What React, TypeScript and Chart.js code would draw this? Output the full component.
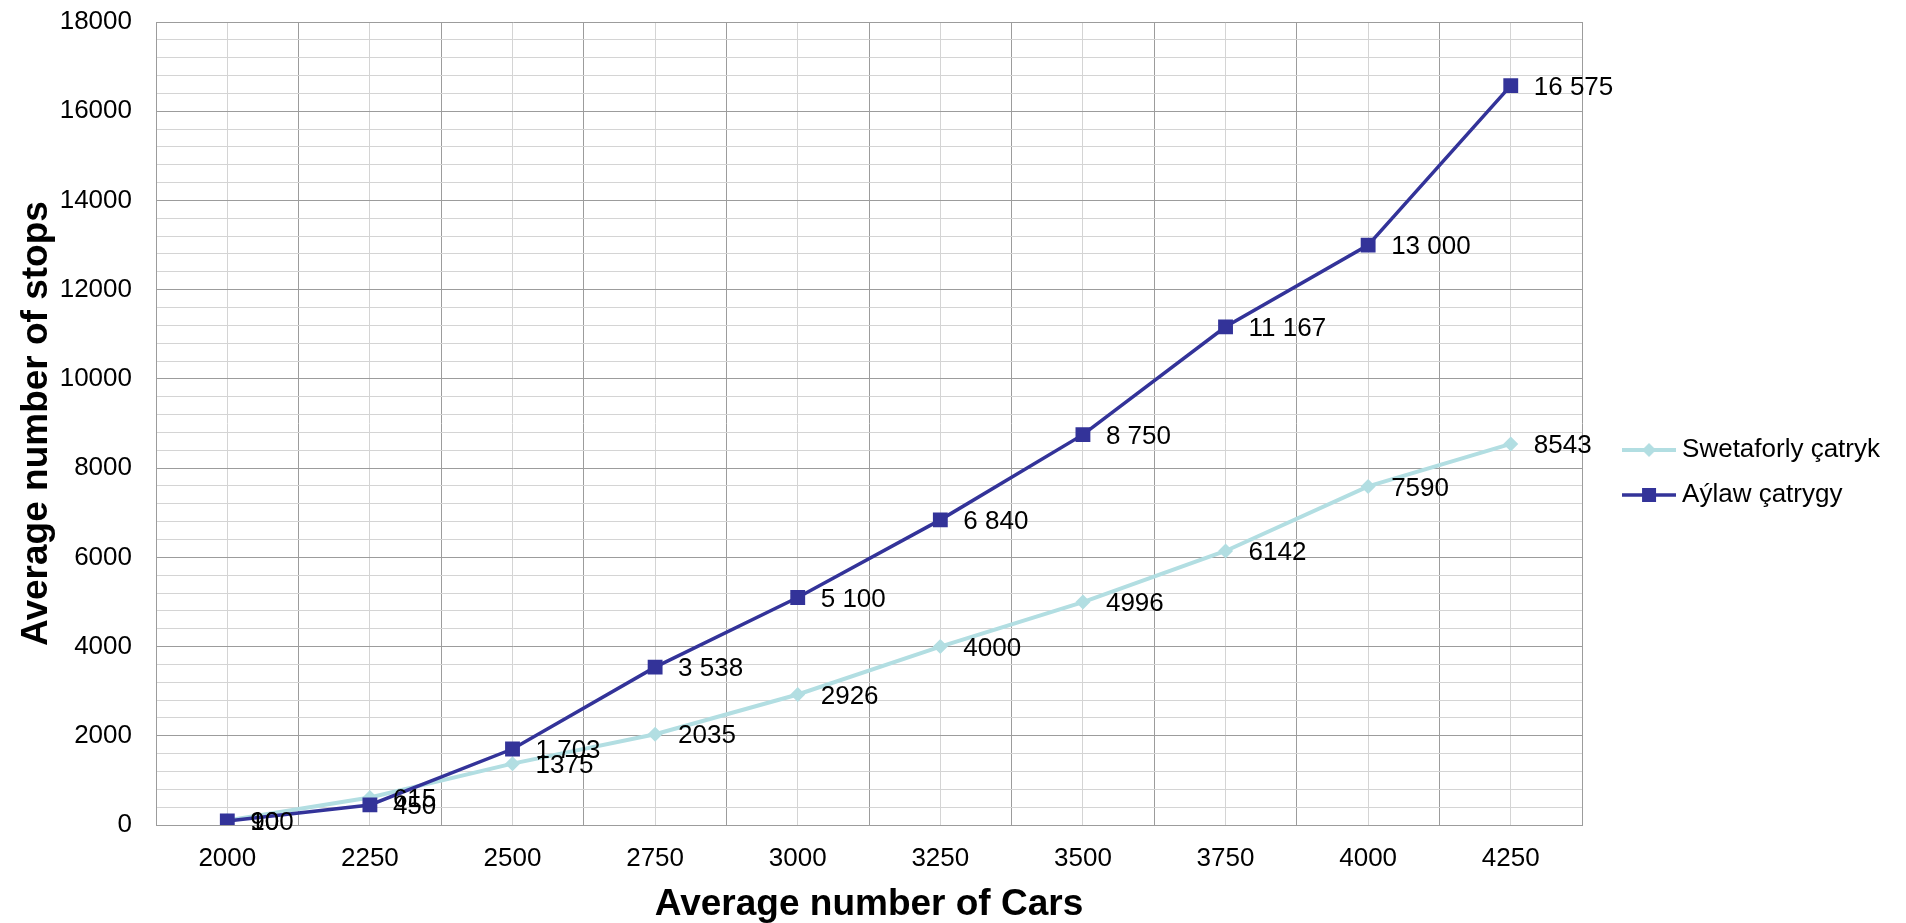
import React, { useEffect, useRef } from "react";
import { Chart, registerables } from "chart.js";

Chart.register(...registerables);

const categories = ["2000", "2250", "2500", "2750", "3000", "3250", "3500", "3750", "4000", "4250"];
const swetaforlyValues = [100, 615, 1375, 2035, 2926, 4000, 4996, 6142, 7590, 8543];
const aylawValues = [90, 450, 1703, 3538, 5100, 6840, 8750, 11167, 13000, 16575];
const seriesNames = ["Swetaforly çatryk", "Aýlaw çatrygy"];
const xTitle = "Average number of Cars";
const yTitle = "Average number of stops";

const LIGHT = "#b2dee2";
const BLUE = "#333399";
const GRID_MAJOR = "#9c9c9c";
const GRID_MINOR = "#d4d4d4";
const FONT = "'Liberation Sans', Arial, sans-serif";

function spaced(v: number) {
  return String(v).replace(/\B(?=(\d{3})+(?!\d))/g, " ");
}

function makeIcon(color: string, marker: "diamond" | "square") {
  const c = document.createElement("canvas");
  c.width = 54;
  c.height = 16;
  const ctx = c.getContext("2d")!;
  ctx.strokeStyle = color;
  ctx.lineWidth = marker === "square" ? 3.5 : 4;
  ctx.beginPath();
  ctx.moveTo(0, 8);
  ctx.lineTo(54, 8);
  ctx.stroke();
  ctx.fillStyle = color;
  if (marker === "square") {
    ctx.fillRect(20, 1, 14, 14);
  } else {
    ctx.beginPath();
    ctx.moveTo(27, 1);
    ctx.lineTo(34, 8);
    ctx.lineTo(27, 15);
    ctx.lineTo(20, 8);
    ctx.closePath();
    ctx.fill();
  }
  return c;
}

const labelPlugin = {
  id: "valueLabels",
  afterDatasetsDraw(chart: any) {
    const ctx = chart.ctx;
    ctx.save();
    ctx.font = `26px ${FONT}`;
    ctx.fillStyle = "#000";
    ctx.textAlign = "left";
    ctx.textBaseline = "middle";
    chart.data.datasets.forEach((ds: any, di: number) => {
      const meta = chart.getDatasetMeta(di);
      meta.data.forEach((pt: any, i: number) => {
        const v = ds.data[i];
        const txt = di === 1 ? spaced(v) : String(v);
        ctx.fillText(txt, pt.x + 23, pt.y + 2);
      });
    });
    ctx.restore();
  },
};

export default function App() {
  const ref = useRef<HTMLCanvasElement>(null);

  useEffect(() => {
    if (!ref.current) return;
    Chart.defaults.font.family = FONT;
    Chart.defaults.color = "#000";
    const icons = [makeIcon(LIGHT, "diamond"), makeIcon(BLUE, "square")];

    const chart = new Chart(ref.current, {
      type: "line",
      data: {
        labels: categories,
        datasets: [
          {
            label: seriesNames[0],
            data: swetaforlyValues,
            borderColor: LIGHT,
            backgroundColor: LIGHT,
            borderWidth: 4,
            pointStyle: "rectRot",
            pointRadius: 7.5,
            pointBorderWidth: 0,
            tension: 0,
            order: 1,
          },
          {
            label: seriesNames[1],
            data: aylawValues,
            borderColor: BLUE,
            backgroundColor: BLUE,
            borderWidth: 3.5,
            pointStyle: "rect",
            pointRadius: 10.5,
            pointBorderWidth: 0,
            tension: 0,
            order: 0,
          },
        ],
      },
      options: {
        animation: false,
        responsive: true,
        maintainAspectRatio: false,
        layout: { padding: { left: 6, top: 22, right: 16, bottom: 0 } },
        plugins: {
          tooltip: { enabled: false },
          legend: {
            position: "right",
            align: "center",
            labels: {
              usePointStyle: true,
              pointStyleWidth: 40,
              padding: 19,
              color: "#000",
              font: { size: 26, family: FONT },
              sort: (a: any, b: any) => a.datasetIndex - b.datasetIndex,
              generateLabels: (chart: any) => {
                const items = Chart.defaults.plugins.legend.labels.generateLabels(chart);
                items.forEach((it: any) => {
                  it.pointStyle = icons[it.datasetIndex];
                });
                return items;
              },
            },
          },
        },
        scales: {
          x: {
            type: "category",
            position: "bottom",
            offset: true,
            grid: { offset: true, color: GRID_MAJOR, drawTicks: false },
            border: { color: GRID_MAJOR },
            ticks: { font: { size: 26 }, padding: 18, color: "#000", maxRotation: 0, autoSkip: false },
            title: {
              display: true,
              text: xTitle,
              color: "#000",
              font: { size: 37, weight: "bold", lineHeight: 1.0 },
              padding: { top: 0, bottom: 0 },
            },
            afterFit: (s: any) => {
              s.height = 98;
              s.paddingLeft = 0;
              s.paddingRight = 0;
            },
          },
          x2: {
            type: "category",
            position: "bottom",
            labels: categories,
            offset: true,
            grid: { offset: false, color: GRID_MINOR, drawTicks: false },
            border: { display: false },
            ticks: { display: false },
            afterFit: (s: any) => {
              s.height = 0;
              s.paddingLeft = 0;
              s.paddingRight = 0;
            },
          },
          y: {
            type: "linear",
            position: "left",
            min: 0,
            max: 18000,
            grid: {
              drawTicks: false,
              color: (c: any) => (c.tick && c.tick.value % 2000 === 0 ? GRID_MAJOR : GRID_MINOR),
            },
            border: { color: GRID_MAJOR },
            ticks: {
              stepSize: 400,
              autoSkip: false,
              padding: 24,
              font: { size: 26 },
              color: "#000",
              callback: (v: any) => (Number(v) % 2000 === 0 ? String(v) : ""),
            },
            title: {
              display: true,
              text: yTitle,
              color: "#000",
              font: { size: 37, weight: "bold", lineHeight: 1.2 },
              padding: { top: 9, bottom: 0 },
            },
            afterFit: (s: any) => {
              s.width = 150;
              s.paddingTop = 0;
              s.paddingBottom = 0;
            },
          },
          yR: {
            type: "linear",
            position: "right",
            display: true,
            grid: { display: false },
            border: { display: false },
            ticks: { display: false },
            afterFit: (s: any) => {
              s.width = 28;
              s.paddingTop = 0;
              s.paddingBottom = 0;
            },
          },
        },
      },
      plugins: [labelPlugin],
    });
    return () => chart.destroy();
  }, []);

  return (
    <div style={{ position: "fixed", left: 0, top: 0, width: "1906px", height: "923px", background: "#fff" }}>
      <canvas ref={ref} />
    </div>
  );
}
